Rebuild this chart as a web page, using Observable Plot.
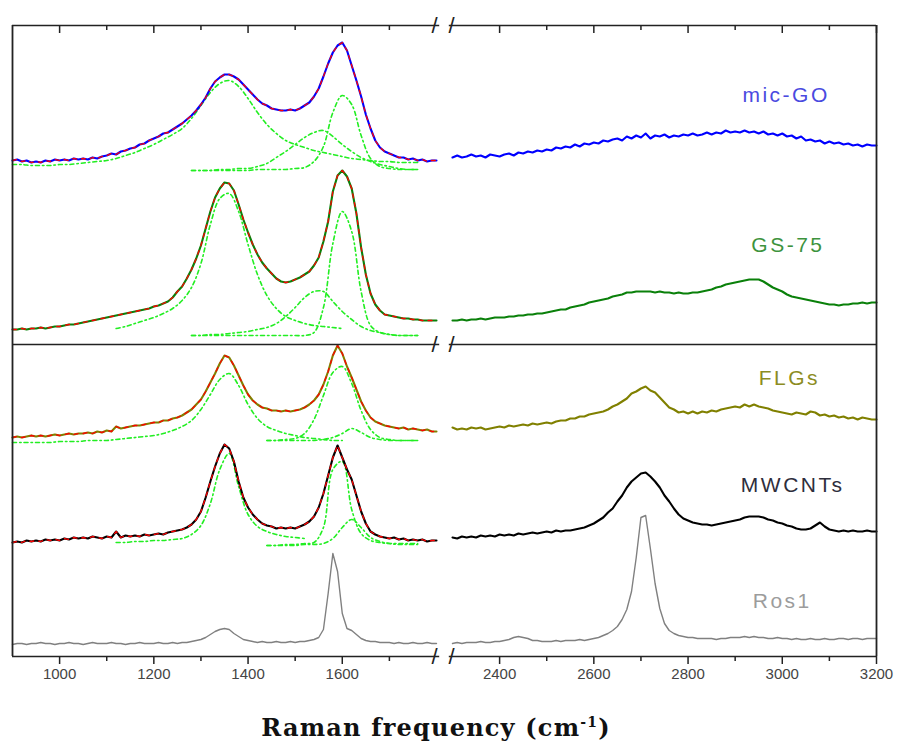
<!DOCTYPE html>
<html><head><meta charset="utf-8">
<script src="https://cdn.jsdelivr.net/npm/d3@7"></script>
<script src="https://cdn.jsdelivr.net/npm/@observablehq/plot@0.6"></script>
<style>
body{margin:0;background:#fff;}
#wrap{position:relative;width:898px;height:752px;overflow:hidden;}
#xlabel{position:absolute;left:0;width:872px;top:715px;line-height:26px;text-align:center;font-family:"DejaVu Serif",serif;font-weight:bold;font-size:24px;letter-spacing:1.2px;color:#111;}
#xlabel sup{font-size:14px;line-height:0;}
</style></head><body>
<div id="wrap"><div id="chart"></div><div id="xlabel">Raman frequency (cm<sup>-1</sup>)</div></div>
<script>
// ---------- data ----------
const samples = ["mic-GO", "GS-75", "FLGs", "MWCNTs", "Ros1"];
const offsets = [496, 327, 219, 115, 13];           // vertical stacking offsets (a.u.)
const majorTicks = [1000, 1200, 1400, 1600, 2400, 2600, 2800, 3000, 3200];
const minorTicks = [1100, 1300, 1500, 1700, 2500, 2700, 2900, 3100];
const wnLeft = d3.range(900, 1801, 10);
const wnRight = d3.range(2300, 3201, 10);

const micGO_left = [0,1,-1,0,-2,-1,-2,0,-1,1,
 0,1,0,2,1,2,1,3,2,4,
 5,7,6,9,10,12,13,16,17,20,
 22,24,27,28,31,34,37,41,45,50,
 56,63,72,79,83,86,86,84,81,76,
 71,66,61,57,55,52,51,50,50,51,
 50,52,55,58,64,72,84,97,108,115,
 118,110,95,80,64,46,32,20,13,9,
 7,5,3,3,1,2,0,1,-1,0,0];
const micGO_right = [3,5,3,4,6,4,5,3,6,5,
 4,6,7,5,8,7,9,8,10,9,
 11,10,13,12,14,13,16,14,17,16,
 18,17,20,19,21,22,20,24,22,25,
 23,27,22,25,24,26,23,25,24,26,
 25,27,25,26,28,26,28,27,30,28,
 29,28,30,28,29,27,29,26,27,25,
 27,24,25,22,24,20,21,19,20,17,
 19,17,18,16,17,15,16,14,16,15,15];
const gs75_left = [0,0,1,0,1,1,2,1,2,3,
 3,4,5,5,6,7,8,9,10,11,
 12,13,14,15,16,17,18,19,20,21,
 23,24,26,28,32,38,43,51,60,71,
 84,101,118,132,141,147,146,139,125,110,
 97,85,75,67,61,56,51,48,47,48,
 50,52,55,58,64,72,88,108,138,154,
 159,153,141,116,82,55,36,25,19,15,
 14,13,12,11,11,10,10,9,9,9,9];
const gs75_right = [9,9,10,9,10,10,11,10,11,12,
 12,12,13,13,14,14,15,15,16,16,
 17,18,19,20,20,22,23,24,25,27,
 28,29,30,31,33,34,35,37,37,38,
 38,38,38,37,38,37,37,36,37,36,
 36,37,37,38,39,40,42,43,45,46,
 47,48,49,50,50,50,48,45,42,40,
 38,35,33,32,31,30,29,28,27,26,
 25,25,24,25,25,26,26,27,26,27,27];
const flg_left = [0,1,0,1,2,1,2,1,2,3,
 2,3,4,3,4,4,5,4,6,5,
 7,6,11,9,10,11,12,12,13,14,
 15,15,17,17,19,20,22,25,28,33,
 38,46,55,64,74,82,80,72,62,52,
 43,37,33,30,29,27,27,26,27,26,
 27,28,30,33,37,43,53,66,82,92,
 84,71,60,48,36,27,20,16,14,12,
 11,10,9,10,8,9,8,7,8,6,6];
const flg_right = [10,8,9,8,10,9,10,8,9,10,
 11,10,12,11,12,13,12,14,13,14,
 15,14,16,17,17,19,19,21,21,23,
 24,25,26,28,31,33,36,39,44,46,
 49,51,47,45,40,35,30,28,25,26,
 24,26,24,26,25,27,26,28,29,30,
 31,30,33,31,33,31,30,29,27,26,
 25,24,23,25,24,23,26,25,22,23,
 21,22,20,21,19,20,18,20,19,18,18];
const mw_left = [-1,0,-1,1,0,1,0,2,1,2,
 1,3,2,4,3,4,3,5,4,3,
 5,4,10,4,6,5,6,5,7,6,
 7,8,7,9,10,11,12,14,17,22,
 30,44,60,75,88,97,93,80,60,44,
 34,27,22,18,16,15,13,14,13,14,
 13,15,17,20,25,34,48,66,84,96,
 84,72,62,46,30,18,10,7,5,4,
 3,4,2,3,1,2,1,2,0,1,1];
const mw_right = [4,3,5,4,5,4,6,5,6,5,
 7,6,7,6,8,7,8,9,8,9,
 10,9,11,10,11,11,12,13,14,16,
 18,21,24,29,33,40,46,54,60,64,
 68,69,65,60,54,46,40,33,27,23,
 21,19,18,17,17,16,17,18,19,20,
 21,22,24,25,25,25,24,22,21,19,
 18,16,15,13,12,12,13,16,19,15,
 12,11,10,11,10,11,10,10,11,10,10];
const ros_left = [-1,0,0,-1,0,0,1,0,0,-1,
 0,0,1,0,0,-1,0,1,0,0,
 0,1,0,0,-1,0,0,1,0,0,
 0,1,0,0,1,0,1,1,2,3,
 4,6,9,12,14,15,14,10,7,4,
 3,2,1,2,1,1,2,1,1,2,
 1,2,2,3,4,6,14,50,90,72,
 30,15,13,9,5,3,2,2,1,1,
 1,0,1,0,0,1,0,0,1,0,0];
const ros_right = [0,1,0,1,1,1,2,1,1,2,
 2,3,4,6,7,6,5,3,3,2,
 2,2,3,2,3,3,3,4,3,4,
 5,6,8,10,13,17,24,34,52,86,
 126,128,95,60,35,20,13,10,8,7,
 6,6,5,5,5,5,4,5,5,6,
 6,6,7,6,7,6,6,5,5,6,
 5,5,4,5,4,4,5,4,4,5,
 4,4,5,5,4,5,5,4,5,5,5];

// fitted band components (green dotted)
const mg_fitD  = [-4,-4,-5,-5,-5,-4,-4,-3,-2,-1,0,2,5,8,12,16,21,26,32,42,55,68,77,80,74,62,48,36,27,20,16,13,10,8,6,4,2,1,0,-1,-1,-2,-2,-2];
const mg_fitD3 = [-10,-10,-10,-9,-9,-8,-8,-6,-3,3,9,16,23,28,30,24,16,9,3,-1,-4,-6,-8,-9,-9];
const mg_fitG  = [-10,-10,-10,-10,-10,-10,-10,-9,-9,-9,-9,-8,-7,-1,14,48,65,56,25,2,-6,-8,-9,-9,-9];
const gs_fitD  = [1,3,6,9,12,16,21,29,42,66,105,131,136,118,85,55,34,21,13,9,6,4,3,2,1];
const gs_fitD3 = [-6,-6,-5,-5,-4,-3,-2,0,2,6,13,22,32,38,38,28,18,10,3,-1,-3,-5,-6,-6,-6];
const gs_fitG  = [-6,-6,-6,-6,-6,-6,-6,-6,-6,-6,-6,-6,-6,-3,22,86,118,98,38,4,-3,-5,-6,-6,-6];
const flg_fitD = [-5,-5,-5,-5,-5,-4,-4,-4,-3,-3,-3,-2,-1,0,1,2,4,7,11,17,28,43,58,64,52,33,19,11,7,4,2,0,-1,-2,-3,-3];
const flg_fitG = [-3,-3,-2,-1,4,18,42,65,71,54,27,8,0,-2,-3,-3,-3];
const flg_fitD2 = [-3,-3,-3,-3,-3,-3,-2,0,4,9,5,0,-2,-3,-3,-3,-3];
const mw_fitD  = [-1,-1,0,0,1,1,2,3,7,16,38,72,88,55,27,15,10,7,5,4,3];
const mw_fitG  = [-4,-4,-3,-3,-2,-1,14,72,80,32,8,1,-1,-2,-2,-2,-2];
const mw_fitD2 = [-4,-4,-4,-4,-3,-3,-2,3,14,22,14,4,0,-2,-3,-3,-3];

// ---------- assembly ----------
const lineColors = ["#0000ff", "#0a800a", "#808000", "#000000", "#808080"];
const labelColors = ["#4a4ae0", "#3d933d", "#8c8c22", "#2e2e3c", "#9c9c9c"];
const spectra = [[micGO_left, micGO_right], [gs75_left, gs75_right], [flg_left, flg_right], [mw_left, mw_right], [ros_left, ros_right]];
const comps = [
  [0, d3.range(900, 1761, 20), mg_fitD], [0, d3.range(1280, 1761, 20), mg_fitD3], [0, d3.range(1280, 1761, 20), mg_fitG],
  [1, d3.range(1120, 1601, 20), gs_fitD], [1, d3.range(1280, 1761, 20), gs_fitD3], [1, d3.range(1280, 1761, 20), gs_fitG],
  [2, d3.range(900, 1601, 20), flg_fitD], [2, d3.range(1440, 1761, 20), flg_fitG], [2, d3.range(1440, 1761, 20), flg_fitD2],
  [3, d3.range(1120, 1521, 20), mw_fitD], [3, d3.range(1440, 1761, 20), mw_fitG], [3, d3.range(1440, 1761, 20), mw_fitD2]
];

const specRows = spectra.map((pair, i) => [
  pair[0].map((v, j) => ({wn: wnLeft[j], I: offsets[i] + v})),
  pair[1].map((v, j) => ({wn: wnRight[j], I: offsets[i] + v}))
]);
const compRows = comps.map(([i, wn, vals]) => vals.map((v, j) => ({wn: wn[j], I: offsets[i] + v})));

const labelPos = [[3008, 561], [3012, 411], [3015, 278], [3022, 171], [3000, 55]];
const labelRows = samples.map((s, i) => ({s, x: labelPos[i][0], y: labelPos[i][1], c: labelColors[i]}));

const frameColor = "#222";
const marks = [];
// green fitted components
compRows.forEach(r => marks.push(Plot.line(r, {x: "wn", y: "I", curve: "catmull-rom", stroke: "#22ee22", strokeWidth: 1.6, strokeDasharray: "4,3,1.5,3"})));
// spectra
specRows.forEach((segs, i) => segs.forEach(seg => marks.push(Plot.line(seg, {x: "wn", y: "I", stroke: lineColors[i], strokeWidth: i === 4 ? 1.4 : 2.1}))));
// red overall fit (left segment of fitted samples)
specRows.slice(0, 4).forEach(segs => marks.push(Plot.line(segs[0], {x: "wn", y: "I", stroke: "#ff0000", strokeWidth: 1.3, strokeDasharray: "4,5"})));

const plot = Plot.plot({
  width: 898, height: 700,
  marginLeft: 12, marginRight: 22, marginTop: 25, marginBottom: 44,
  style: {fontFamily: "'Liberation Sans', Arial, sans-serif", fontSize: "15px", color: "#333", background: "#fff"},
  x: {type: "linear", domain: [900, 1800, 2300, 3200], range: [12, 436, 452, 876], axis: null},
  y: {domain: [0, 631], range: [656, 25], axis: null},
  marks: [
    ...marks,
    // frame (broken at axis gap)
    Plot.ruleY([0, 312, 631], {x1: 900, x2: 1900, stroke: frameColor, strokeWidth: 1.6}),
    Plot.ruleY([0, 312, 631], {x1: 2200, x2: 3200, stroke: frameColor, strokeWidth: 1.6}),
    Plot.ruleX([900, 3200], {y1: 0, y2: 631, stroke: frameColor, strokeWidth: 1.8}),
    // top inward ticks
    Plot.ruleX(majorTicks, {y1: 631, y2: 623, stroke: frameColor, strokeWidth: 1.5}),
    Plot.ruleX(minorTicks, {y1: 631, y2: 626, stroke: frameColor, strokeWidth: 1.5}),
    // bottom axis
    Plot.axisX(majorTicks, {anchor: "bottom", tickSize: 8, tickPadding: 4, fontSize: 15, tickFormat: d3.format("d"), stroke: frameColor, strokeWidth: 1.5, fill: "#444", label: null}),
    Plot.ruleX(minorTicks, {y1: 0, y2: -5, stroke: frameColor, strokeWidth: 1.5}),
    // axis break marks
    Plot.text([0, 312, 631], {x: 1800, y: d => d, text: () => "/", dx: -2, fontSize: 22, fill: frameColor}),
    Plot.text([0, 312, 631], {x: 2300, y: d => d, text: () => "/", dx: -1, fontSize: 22, fill: frameColor}),
    // sample labels
    Plot.text(labelRows, {x: "x", y: "y", text: "s", fill: "c", fontSize: 21, textAnchor: "middle"})
  ]
});
document.getElementById("chart").appendChild(plot);
d3.select(plot).selectAll("text").filter(function () { return samples.includes(this.textContent); }).style("letter-spacing", "2.5px");
</script>
</body></html>
